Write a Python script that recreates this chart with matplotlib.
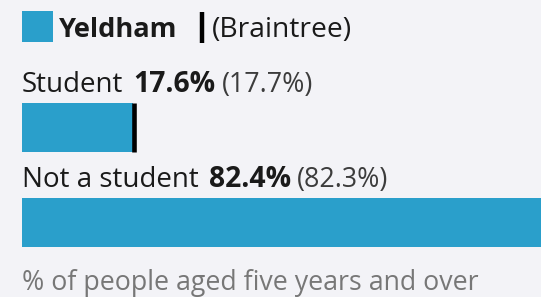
import matplotlib.pyplot as plt
from matplotlib.patches import Rectangle

# data
area = 'Yeldham'
compare_area = 'Braintree'
categories = ['Student', 'Not a student']
values = [17.6, 82.4]
compare_values = [17.7, 82.3]
footnote = '% of people aged five years and over'

bar_color = '#2a9fcb'
bg = '#f3f3f7'
txt = '#1a1a1a'
plt.rcParams['font.family'] = ['Open Sans', 'DejaVu Sans']

fig = plt.figure(figsize=(5.41, 2.97), dpi=100)
fig.patch.set_facecolor(bg)

# layout axes in pixel units, bar axes in percent
lay = fig.add_axes([0, 0, 1, 1])
lay.set_xlim(0, 541)
lay.set_ylim(297, 0)
lay.axis('off')

ax = fig.add_axes([0, 0, 1, 1])
ax.set_xlim(-3.45, 81.9)   # the original chart is cropped on the right
ax.set_ylim(297, 0)
ax.axis('off')

main_fs = 20
bold_fs = 20.3
small_fs = 19.3

# legend
lay.add_patch(Rectangle((22, 11), 31, 31, color=bar_color, lw=0))
lay.text(59, 37, area, fontsize=19.6, fontweight='bold', color=txt, va='baseline')
lay.plot([202, 202], [12, 43], color='black', lw=3.2, solid_capstyle='butt')
lay.text(212, 37, '(' + compare_area + ')', fontsize=20.3, color=txt, va='baseline')

label_y = [92, 187]
bar_y = [127.5, 222]
bar_h = 49

for i, cat in enumerate(categories):
    t1 = lay.text(22, label_y[i], cat, fontsize=main_fs, color=txt, va='baseline')
    t2 = lay.annotate(f'{values[i]}%', xy=(1, 0), xycoords=t1, xytext=(7.5, 0),
                      textcoords='offset points', fontsize=bold_fs, fontweight='bold',
                      color=txt, va='bottom')
    lay.annotate(f'({compare_values[i]}%)', xy=(1, 0), xycoords=t2, xytext=(4, 0),
                 textcoords='offset points', fontsize=small_fs, color='#3c3c3c', va='bottom')
    ax.barh(bar_y[i], values[i], height=bar_h, left=0, color=bar_color, lw=0)
    ax.vlines(compare_values[i], bar_y[i] - bar_h / 2, bar_y[i] + bar_h / 2,
              color='black', lw=3.3)

lay.text(22, 290, footnote, fontsize=19.3, color='#777777', va='baseline')

fig.savefig('out.png', dpi=100, facecolor=bg)
